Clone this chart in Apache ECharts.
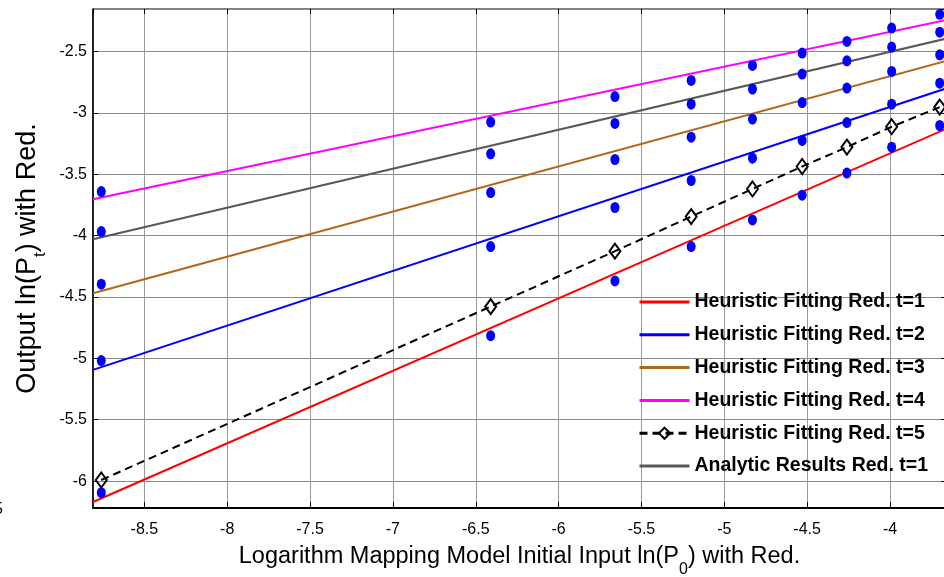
<!DOCTYPE html>
<html>
<head>
<meta charset="utf-8">
<script src="https://cdn.jsdelivr.net/npm/echarts@6/dist/echarts.min.js"></script>
<style>
  html, body { margin: 0; padding: 0; background: #fff; }
  #chart { width: 944px; height: 577px; }
</style>
</head>
<body>
<div id="chart"></div>
<script>
// Initial inputs ln(P0) at which the reduction was evaluated
const inputX = [-8.76, -6.41, -5.66, -5.20, -4.83, -4.53, -4.26, -3.99, -3.70];

// Fitted straight lines, given by their values at both ends of the x range
const fitX = [-8.81, -3.67];
const fitT1 = [-6.17, -3.135];
const fitT2 = [-5.094, -2.805];
const fitT3 = [-4.469, -2.58];
const fitT4 = [-3.703, -2.246];
const analyticT1 = [-4.029, -2.398];

// Heuristic fitting for t=5, one value per input
const heurT5 = [-5.991, -4.578, -4.127, -3.845, -3.62, -3.437, -3.279, -3.113, -2.953];

// Measured outputs (blue dots), one row per level
const measA = [-3.641, -3.075, -2.867, -2.736, -2.614, -2.513, -2.418, -2.309, -2.197];
const measB = [-3.967, -3.334, -3.086, -2.929, -2.806, -2.684, -2.576, -2.464, -2.343];
const measC = [-4.396, -3.649, -3.380, -3.198, -3.051, -2.916, -2.798, -2.663, -2.527];
const measD = [-5.018, -4.089, -3.771, -3.551, -3.369, -3.225, -3.079, -2.929, -2.758];
const measE = [-6.094, -4.815, -4.369, -4.089, -3.872, -3.671, -3.491, -3.280, -3.103];

const X_MIN = -8.81, X_MAX = -3.662;
const Y_MIN = -6.219, Y_MAX = -2.154;

const legendNames = [
  'Heuristic Fitting Red. t=1',
  'Heuristic Fitting Red. t=2',
  'Heuristic Fitting Red. t=3',
  'Heuristic Fitting Red. t=4',
  'Heuristic Fitting Red. t=5',
  'Analytic Results Red. t=1'
];

const pair = (xs, ys) => xs.map((x, i) => [x, ys[i]]);

// Plain fitted line; the item colour is transparent so the legend shows only the stroke
function fitLine(name, ys, color) {
  return {
    name: name, type: 'line', data: pair(fitX, ys),
    symbol: 'none', silent: true,
    lineStyle: { color: color, width: 2 },
    itemStyle: { color: 'transparent', borderWidth: 0 },
    z: 2
  };
}

const font = '"Liberation Sans", Arial, sans-serif';

const chart = echarts.init(document.getElementById('chart'), null, { renderer: 'canvas' });

const measRows = [measA, measB, measC, measD, measE];
const measPoints = [];
measRows.forEach(row => row.forEach((v, i) => measPoints.push([inputX[i], v])));

chart.setOption({
  animation: false,
  backgroundColor: '#fff',
  grid: {
    left: 93, top: 9, width: 853, height: 499,
    outerBoundsMode: 'none', containLabel: false,
    show: true, borderColor: '#000', borderWidth: 1, backgroundColor: 'transparent'
  },
  legend: {
    data: legendNames,
    orient: 'vertical',
    left: 633, top: 286,
    itemWidth: 50, itemHeight: 14, itemGap: 10.8,
    backgroundColor: 'transparent',
    lineStyle: { width: 3 },
    textStyle: { fontFamily: font, fontSize: 19.5, fontWeight: 'bold', color: '#000', lineHeight: 22 },
    selectedMode: false
  },
  xAxis: [{
    type: 'value', position: 'bottom',
    min: X_MIN, max: X_MAX, splitNumber: 10, minInterval: 0.5, maxInterval: 0.5,
    axisLine: { show: true, onZero: false, lineStyle: { color: '#000', width: 2 } },
    axisTick: { show: true, inside: true, length: 6, lineStyle: { color: '#000', width: 1 } },
    axisLabel: { show: true, showMinLabel: false, showMaxLabel: false, margin: 14,
      fontFamily: font, fontSize: 16, color: '#000' },
    splitLine: { show: true, lineStyle: { color: '#999', width: 1 } },
    name: 'Logarithm Mapping Model Initial Input ln(P{sub|0}) with Red.',
    nameLocation: 'middle', nameGap: 27.5,
    nameTextStyle: {
      fontFamily: font, fontSize: 23.5, color: '#000',
      rich: { sub: { fontFamily: font, fontSize: 16, color: '#000', padding: [26, 0, 0, 0] } }
    }
  }, {
    type: 'value', position: 'top',
    min: X_MIN, max: X_MAX, splitNumber: 10, minInterval: 0.5, maxInterval: 0.5,
    axisLine: { show: false },
    axisTick: { show: true, inside: true, length: 5, lineStyle: { color: '#000', width: 1 } },
    axisLabel: { show: false },
    splitLine: { show: false }
  }],
  yAxis: [{
    type: 'value', position: 'left',
    min: Y_MIN, max: Y_MAX, splitNumber: 8, minInterval: 0.5, maxInterval: 0.5,
    axisLine: { show: true, onZero: false, lineStyle: { color: '#000', width: 1.5 } },
    axisTick: { show: true, inside: true, length: 5, lineStyle: { color: '#000', width: 1 } },
    axisLabel: { show: true, showMinLabel: false, showMaxLabel: false, margin: 6,
      fontFamily: font, fontSize: 16, color: '#000' },
    splitLine: { show: true, lineStyle: { color: '#888', width: 1 } },
    name: 'Output ln(P{sub|t}) with Red.',
    nameLocation: 'middle', nameGap: 44.5,
    nameTextStyle: {
      fontFamily: font, fontSize: 27, color: '#000',
      rich: { sub: { fontFamily: font, fontSize: 17, color: '#000', padding: [24, 0, 0, 0] } }
    }
  }, {
    type: 'value', position: 'right',
    min: Y_MIN, max: Y_MAX, splitNumber: 8, minInterval: 0.5, maxInterval: 0.5,
    axisLine: { show: false },
    axisTick: { show: true, inside: true, length: 5, lineStyle: { color: '#000', width: 1 } },
    axisLabel: { show: false },
    splitLine: { show: false }
  }],
  graphic: [{
    type: 'text', left: -6, top: 502,
    style: { text: '5', fontFamily: font, fontSize: 16, fill: '#000' }
  }],
  series: [
    fitLine(legendNames[0], fitT1, '#ff0000'),
    fitLine(legendNames[1], fitT2, '#0000ff'),
    fitLine(legendNames[2], fitT3, '#b26619'),
    fitLine(legendNames[3], fitT4, '#ff00ff'),
    {
      name: legendNames[4], type: 'line', data: pair(inputX, heurT5),
      symbol: 'diamond', symbolSize: [11, 15], showSymbol: true,
      lineStyle: { color: '#000', width: 2, type: [8, 5] },
      itemStyle: { color: 'transparent', borderColor: '#000', borderWidth: 2 },
      z: 3
    },
    fitLine(legendNames[5], analyticT1, '#595959'),
    {
      name: 'measured', type: 'scatter', data: measPoints,
      symbol: 'circle', symbolSize: [9, 11],
      itemStyle: { color: '#0000ff', opacity: 1 },
      z: 4
    }
  ]
});
</script>
</body>
</html>
